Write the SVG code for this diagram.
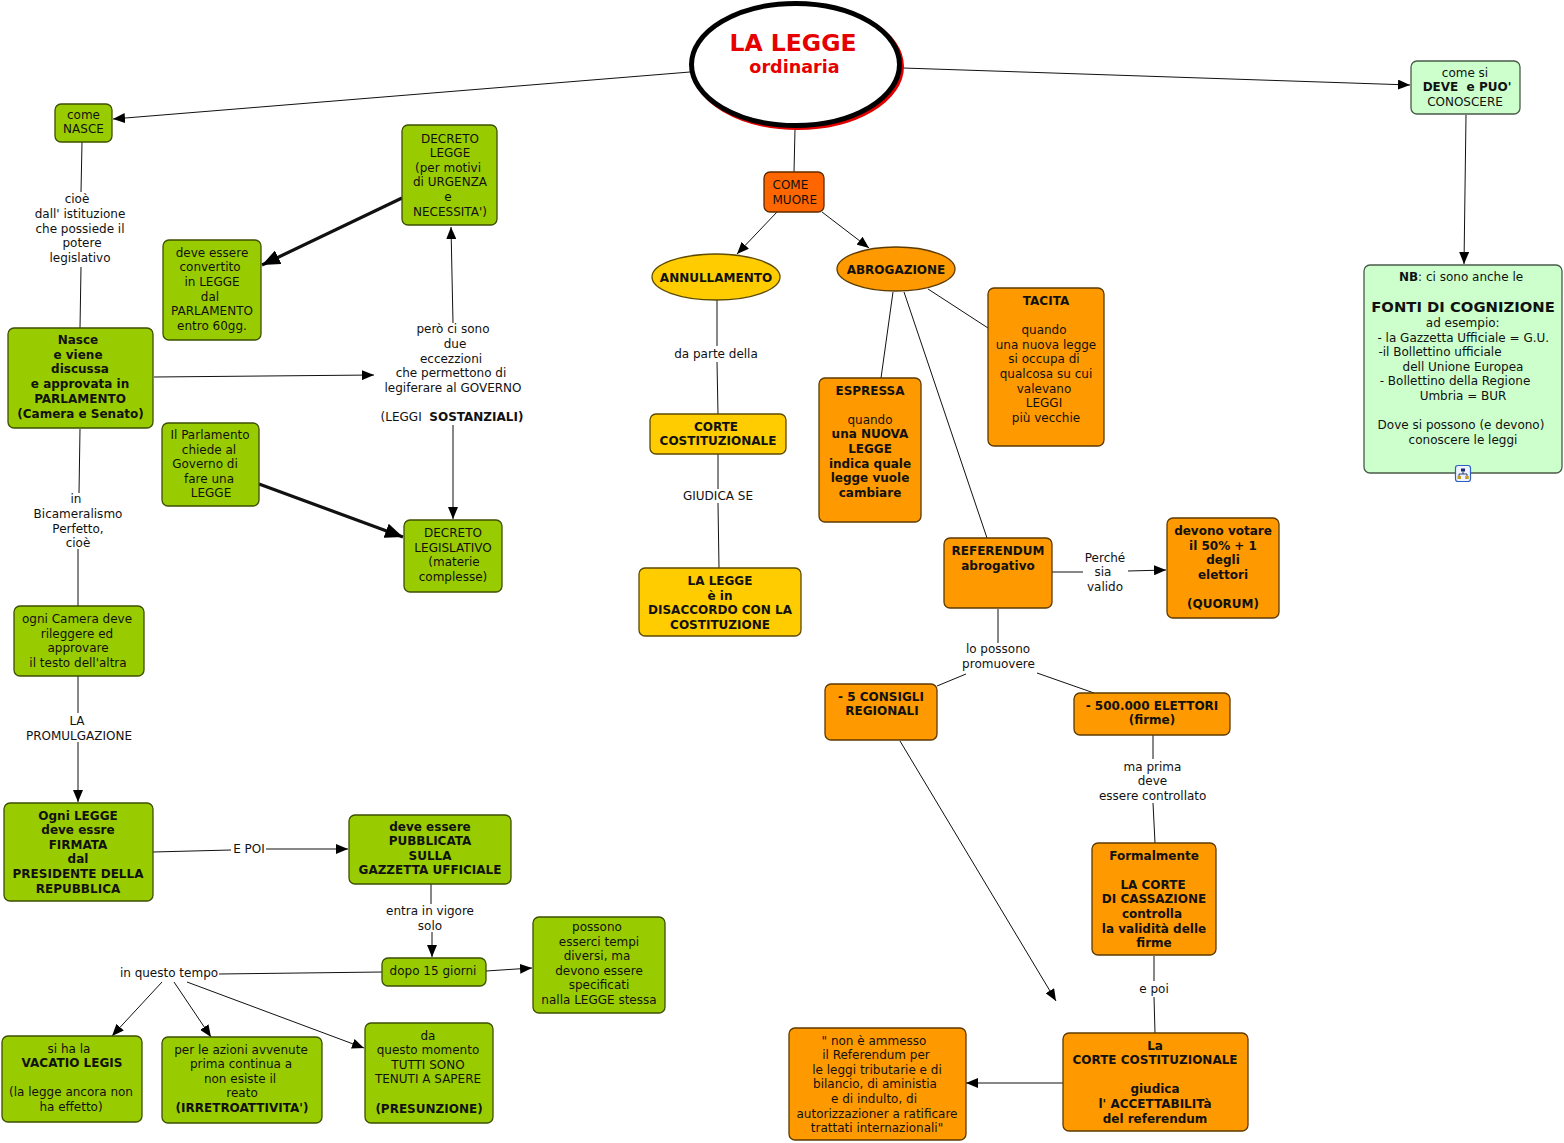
<svg xmlns="http://www.w3.org/2000/svg" width="1564" height="1143" viewBox="0 0 1564 1143">
<style>
.g{fill:#99cc00;stroke:#3d4f00;stroke-width:1.3}
.o{fill:#ff9900;stroke:#5c3a00;stroke-width:1.3}
.y{fill:#ffcc00;stroke:#5c4a00;stroke-width:1.3}
.r{fill:#ff6600;stroke:#5c2a00;stroke-width:1.3}
.lg{fill:#ccffcc;stroke:#4a5a4a;stroke-width:1.3}
text{font-family:"DejaVu Sans",Verdana,sans-serif;font-size:12px;fill:#111}
.m{text-anchor:middle}
.b{font-weight:bold}
#connectors line{stroke:#111;stroke-width:1;fill:none}
#connectors line.thick{stroke-width:3.2}
</style>
<defs>
<marker id="a" viewBox="0 0 12 10" refX="12" refY="5" markerWidth="12" markerHeight="10" markerUnits="userSpaceOnUse" orient="auto"><path d="M0,0 L12,5 L0,10 z" fill="#000"/></marker>
<marker id="A" viewBox="0 0 18 15" refX="18" refY="7.5" markerWidth="18" markerHeight="15" markerUnits="userSpaceOnUse" orient="auto"><path d="M0,0 L18,7.5 L0,15 z" fill="#000"/></marker>
</defs>
<rect width="1564" height="1143" fill="#fff"/>

<g id="connectors">
<line x1="690" y1="72" x2="113" y2="119" marker-end="url(#a)"/>
<line x1="903" y1="68" x2="1410" y2="85" marker-end="url(#a)"/>
<line x1="795" y1="129" x2="794" y2="172"/>
<line x1="777" y1="212" x2="737" y2="254" marker-end="url(#a)"/>
<line x1="822" y1="212" x2="869" y2="248" marker-end="url(#a)"/>
<line x1="717" y1="300" x2="717" y2="346"/>
<line x1="717" y1="362" x2="718" y2="414"/>
<line x1="718" y1="454" x2="718" y2="489"/>
<line x1="718" y1="503" x2="719" y2="568"/>
<line x1="893" y1="292" x2="881" y2="378"/>
<line x1="904" y1="292" x2="987" y2="538"/>
<line x1="928" y1="289" x2="988" y2="328"/>
<line x1="1052" y1="572" x2="1083" y2="572"/>
<line x1="1128" y1="571" x2="1166" y2="570" marker-end="url(#a)"/>
<line x1="998" y1="609" x2="998" y2="643"/>
<line x1="966" y1="674" x2="937" y2="686"/>
<line x1="1037" y1="673" x2="1094" y2="693"/>
<line x1="900" y1="741" x2="1056" y2="1001" marker-end="url(#a)"/>
<line x1="1153" y1="735" x2="1153" y2="759"/>
<line x1="1153" y1="803" x2="1155" y2="843"/>
<line x1="1154" y1="956" x2="1154" y2="981"/>
<line x1="1154" y1="997" x2="1155" y2="1033"/>
<line x1="1063" y1="1083" x2="966" y2="1083" marker-end="url(#a)"/>
<line x1="1466" y1="115" x2="1464" y2="264" marker-end="url(#a)"/>
<line x1="82" y1="142" x2="81" y2="192"/>
<line x1="81" y1="267" x2="80" y2="328"/>
<line x1="154" y1="377" x2="374" y2="375" marker-end="url(#a)"/>
<line x1="453" y1="323" x2="451" y2="227" marker-end="url(#a)"/>
<line x1="453" y1="425" x2="453" y2="519" marker-end="url(#a)"/>
<line class="thick" x1="402" y1="198" x2="262" y2="265" marker-end="url(#A)"/>
<line class="thick" x1="259" y1="484" x2="403" y2="537" marker-end="url(#A)"/>
<line x1="80" y1="429" x2="79" y2="493"/>
<line x1="78" y1="549" x2="78" y2="606"/>
<line x1="78" y1="676" x2="78" y2="713"/>
<line x1="78" y1="742" x2="78" y2="802" marker-end="url(#a)"/>
<line x1="153" y1="852" x2="231" y2="850"/>
<line x1="266" y1="849" x2="348" y2="849" marker-end="url(#a)"/>
<line x1="431" y1="884" x2="431" y2="904"/>
<line x1="432" y1="932" x2="432" y2="957" marker-end="url(#a)"/>
<line x1="486" y1="971" x2="532" y2="968" marker-end="url(#a)"/>
<line x1="219" y1="974" x2="382" y2="972"/>
<line x1="162" y1="982" x2="112" y2="1036" marker-end="url(#a)"/>
<line x1="174" y1="982" x2="211" y2="1037" marker-end="url(#a)"/>
<line x1="187" y1="982" x2="364" y2="1048" marker-end="url(#a)"/>
</g>

<g id="labels">
<text class="m"><tspan x="77" y="203.3">cioè</tspan><tspan x="80" y="217.9">dall' istituzione</tspan><tspan x="80" y="232.5">che possiede il</tspan><tspan x="82" y="247.1">potere</tspan><tspan x="80" y="261.7">legislativo</tspan></text>
<text class="m"><tspan x="453" y="333.3">però ci sono</tspan><tspan x="455" y="347.9">due</tspan><tspan x="451" y="362.5">eccezzioni</tspan><tspan x="451" y="377.1">che permettono di</tspan><tspan x="453" y="391.7">legiferare al GOVERNO</tspan></text>
<text class="m" x="452" y="421" xml:space="preserve">(LEGGI  <tspan class="b">SOSTANZIALI)</tspan></text>
<text class="m"><tspan x="76" y="503.3">in</tspan><tspan x="78" y="517.9">Bicameralismo</tspan><tspan x="78" y="532.5">Perfetto,</tspan><tspan x="78" y="547.1">cioè</tspan></text>
<text class="m"><tspan x="77" y="725">LA</tspan><tspan x="79" y="739.6">PROMULGAZIONE</tspan></text>
<text class="m" x="249" y="853.3">E POI</text>
<text class="m"><tspan x="430" y="915">entra in vigore</tspan><tspan x="430" y="929.6">solo</tspan></text>
<text class="m" x="169" y="976.5">in questo tempo</text>
<text class="m" x="716" y="358">da parte della</text>
<text class="m" x="718" y="499.5">GIUDICA SE</text>
<text class="m"><tspan x="1105" y="561.7">Perché</tspan><tspan x="1103" y="576.3">sia</tspan><tspan x="1105" y="590.9">valido</tspan></text>
<text class="m"><tspan x="998" y="653.3">lo possono</tspan><tspan x="998.5" y="667.9">promuovere</tspan></text>
<text class="m"><tspan x="1152.5" y="770.7">ma prima</tspan><tspan x="1152.5" y="785.3">deve</tspan><tspan x="1152.7" y="799.9">essere controllato</tspan></text>
<text class="m" x="1154" y="992.7">e poi</text>
</g>

<g id="main">
<ellipse cx="797.5" cy="66.5" rx="104" ry="61" fill="none" stroke="#e00000" stroke-width="5"/>
<ellipse cx="795.5" cy="64.5" rx="104" ry="61" fill="#fff" stroke="#000" stroke-width="5"/>
<text class="m b" x="793" y="51" style="font-size:23.5px;fill:#e60000">LA LEGGE</text>
<text class="m b" x="794.5" y="73.3" style="font-size:17.6px;fill:#e60000">ordinaria</text>
</g>

<g id="n-come-nasce"><rect class="g" x="55" y="104" width="57" height="38" rx="6"/>
<text class="m"><tspan x="83.5" y="118.5">come</tspan><tspan x="83.5" y="133">NASCE</tspan></text></g>

<g id="n-decreto-legge"><rect class="g" x="402" y="125" width="95" height="100" rx="6"/>
<text class="m"><tspan x="450" y="142.5">DECRETO</tspan><tspan x="450" dy="14.6">LEGGE</tspan><tspan x="448" dy="14.6">(per motivi</tspan><tspan x="450" dy="14.6">di URGENZA</tspan><tspan x="448" dy="14.6">e</tspan><tspan x="450" dy="14.6">NECESSITA')</tspan></text></g>

<g id="n-convertito"><rect class="g" x="163" y="240" width="98" height="100" rx="6"/>
<text class="m"><tspan x="212" y="256.7">deve essere</tspan><tspan x="210" dy="14.6">convertito</tspan><tspan x="212" dy="14.6">in LEGGE</tspan><tspan x="210" dy="14.6">dal</tspan><tspan x="212" dy="14.6">PARLAMENTO</tspan><tspan x="212" dy="14.6">entro 60gg.</tspan></text></g>

<g id="n-nasce"><rect class="g" x="8" y="328" width="145" height="100" rx="6"/>
<text class="m b"><tspan x="78" y="344">Nasce</tspan><tspan x="78" dy="14.7">e viene</tspan><tspan x="80" dy="14.7">discussa</tspan><tspan x="80" dy="14.7">e approvata in</tspan><tspan x="80" dy="14.7">PARLAMENTO</tspan><tspan x="80.5" dy="14.7">(Camera e Senato)</tspan></text></g>

<g id="n-parlamento"><rect class="g" x="162" y="423" width="97" height="83" rx="6"/>
<text class="m"><tspan x="210" y="439">Il Parlamento</tspan><tspan x="209" dy="14.6">chiede al</tspan><tspan x="205" dy="14.6">Governo di</tspan><tspan x="209" dy="14.6">fare una</tspan><tspan x="211" dy="14.6">LEGGE</tspan></text></g>

<g id="n-decreto-legislativo"><rect class="g" x="404" y="520" width="98" height="72" rx="6"/>
<text class="m"><tspan x="453" y="537">DECRETO</tspan><tspan x="453" dy="14.6">LEGISLATIVO</tspan><tspan x="454" dy="14.6">(materie</tspan><tspan x="453" dy="14.6">complesse)</tspan></text></g>

<g id="n-ogni-camera"><rect class="g" x="14" y="606" width="130" height="70" rx="6"/>
<text class="m"><tspan x="77" y="623">ogni Camera deve</tspan><tspan x="77" dy="14.6">rileggere ed</tspan><tspan x="78" dy="14.6">approvare</tspan><tspan x="78" dy="14.6">il testo dell'altra</tspan></text></g>

<g id="n-firmata"><rect class="g" x="4" y="803" width="149" height="98" rx="6"/>
<text class="m b"><tspan x="78" y="819.5">Ogni LEGGE</tspan><tspan x="78" dy="14.6">deve essre</tspan><tspan x="78" dy="14.6">FIRMATA</tspan><tspan x="78" dy="14.6">dal</tspan><tspan x="78" dy="14.6">PRESIDENTE DELLA</tspan><tspan x="78" dy="14.6">REPUBBLICA</tspan></text></g>

<g id="n-pubblicata"><rect class="g" x="349" y="815" width="162" height="69" rx="6"/>
<text class="m b"><tspan x="430" y="830.5">deve essere</tspan><tspan x="430" dy="14.6">PUBBLICATA</tspan><tspan x="430" dy="14.6">SULLA</tspan><tspan x="430" dy="14.6">GAZZETTA UFFICIALE</tspan></text></g>

<g id="n-dopo15"><rect class="g" x="382" y="958" width="104" height="28" rx="6"/>
<text class="m" x="433" y="975">dopo 15 giorni</text></g>

<g id="n-possono"><rect class="g" x="533" y="917" width="132" height="96" rx="6"/>
<text class="m"><tspan x="597" y="931">possono</tspan><tspan x="599" dy="14.6">esserci tempi</tspan><tspan x="597" dy="14.6">diversi, ma</tspan><tspan x="599" dy="14.6">devono essere</tspan><tspan x="599" dy="14.6">specificati</tspan><tspan x="599" dy="14.6">nalla LEGGE stessa</tspan></text></g>

<g id="n-vacatio"><rect class="g" x="2" y="1036" width="140" height="86" rx="6"/>
<text class="m"><tspan x="69" y="1052.5">si ha la</tspan><tspan x="72" dy="14.6" class="b">VACATIO LEGIS</tspan><tspan x="71" dy="29.2">(la legge ancora non</tspan><tspan x="71" dy="14.6">ha effetto)</tspan></text></g>

<g id="n-irretroattivita"><rect class="g" x="162" y="1037" width="160" height="86" rx="6"/>
<text class="m"><tspan x="241" y="1053.5">per le azioni avvenute</tspan><tspan x="241" dy="14.6">prima continua a</tspan><tspan x="240" dy="14.6">non esiste il</tspan><tspan x="242" dy="14.6">reato</tspan><tspan x="242" dy="14.6" class="b">(IRRETROATTIVITA')</tspan></text></g>

<g id="n-presunzione"><rect class="g" x="365" y="1023" width="128" height="100" rx="6"/>
<text class="m"><tspan x="428" y="1039.5">da</tspan><tspan x="428" dy="14.6">questo momento</tspan><tspan x="428" dy="14.6">TUTTI SONO</tspan><tspan x="428" dy="14.6">TENUTI A SAPERE</tspan><tspan x="429" dy="29.2" class="b">(PRESUNZIONE)</tspan></text></g>

<g id="n-come-muore"><rect class="r" x="764" y="172" width="60" height="40" rx="6"/>
<text><tspan x="772.5" y="189.3">COME</tspan><tspan x="772.5" y="204">MUORE</tspan></text></g>

<g id="n-annullamento"><ellipse class="y" cx="716" cy="277" rx="64" ry="23"/>
<text class="m b" x="716" y="281.5">ANNULLAMENTO</text></g>

<g id="n-abrogazione"><ellipse class="o" cx="896" cy="269" rx="59" ry="22"/>
<text class="m b" x="896" y="273.5">ABROGAZIONE</text></g>

<g id="n-tacita"><rect class="o" x="988" y="288" width="116" height="158" rx="6"/>
<text class="m"><tspan x="1046" y="305" class="b">TACITA</tspan><tspan x="1044" dy="29.2">quando</tspan><tspan x="1046" dy="14.6">una nuova legge</tspan><tspan x="1044" dy="14.6">si occupa di</tspan><tspan x="1046" dy="14.6">qualcosa su cui</tspan><tspan x="1044" dy="14.6">valevano</tspan><tspan x="1044" dy="14.6">LEGGI</tspan><tspan x="1046" dy="14.6">più vecchie</tspan></text></g>

<g id="n-espressa"><rect class="o" x="819" y="378" width="102" height="144" rx="6"/>
<text class="m"><tspan x="870" y="394.5" class="b">ESPRESSA</tspan><tspan x="870" dy="29.2">quando</tspan><tspan x="870" dy="14.6" class="b">una NUOVA</tspan><tspan x="870" dy="14.6" class="b">LEGGE</tspan><tspan x="870" dy="14.6" class="b">indica quale</tspan><tspan x="870" dy="14.6" class="b">legge vuole</tspan><tspan x="870" dy="14.6" class="b">cambiare</tspan></text></g>

<g id="n-corte-cost-1"><rect class="y" x="650" y="414" width="136" height="40" rx="6"/>
<text class="m b"><tspan x="716" y="430.5">CORTE</tspan><tspan x="718" dy="14.6">COSTITUZIONALE</tspan></text></g>

<g id="n-disaccordo"><rect class="y" x="639" y="568" width="162" height="68" rx="6"/>
<text class="m b"><tspan x="720" y="585">LA LEGGE</tspan><tspan x="720" dy="14.6">è in</tspan><tspan x="720" dy="14.6">DISACCORDO CON LA</tspan><tspan x="720" dy="14.6">COSTITUZIONE</tspan></text></g>

<g id="n-referendum"><rect class="o" x="944" y="538" width="108" height="70" rx="6"/>
<text class="m b"><tspan x="998" y="555">REFERENDUM</tspan><tspan x="998" dy="14.6">abrogativo</tspan></text></g>

<g id="n-quorum"><rect class="o" x="1167" y="518" width="112" height="100" rx="6"/>
<text class="m b"><tspan x="1223" y="535">devono votare</tspan><tspan x="1223" dy="14.6">il 50% + 1</tspan><tspan x="1223" dy="14.6">degli</tspan><tspan x="1223" dy="14.6">elettori</tspan><tspan x="1223" dy="29.2">(QUORUM)</tspan></text></g>

<g id="n-consigli"><rect class="o" x="825" y="684" width="112" height="56" rx="6"/>
<text class="m b"><tspan x="881" y="700.5">- 5 CONSIGLI</tspan><tspan x="882" dy="14.6">REGIONALI</tspan></text></g>

<g id="n-elettori"><rect class="o" x="1074" y="693" width="156" height="42" rx="6"/>
<text class="m b"><tspan x="1152" y="709.5">- 500.000 ELETTORI</tspan><tspan x="1152" dy="14.6">(firme)</tspan></text></g>

<g id="n-formalmente"><rect class="o" x="1092" y="843" width="124" height="112" rx="6"/>
<text class="m b"><tspan x="1154" y="859.5">Formalmente</tspan><tspan x="1153" dy="29.2">LA CORTE</tspan><tspan x="1154" dy="14.6">DI CASSAZIONE</tspan><tspan x="1152" dy="14.6">controlla</tspan><tspan x="1154" dy="14.6">la validità delle</tspan><tspan x="1154" dy="14.6">firme</tspan></text></g>

<g id="n-corte-cost-2"><rect class="o" x="1063" y="1033" width="185" height="98" rx="6"/>
<text class="m b"><tspan x="1155" y="1049.5">La</tspan><tspan x="1155" dy="14.6">CORTE COSTITUZIONALE</tspan><tspan x="1155" dy="29.2">giudica</tspan><tspan x="1155" dy="14.6">l' ACCETTABILITà</tspan><tspan x="1155" dy="14.6">del referendum</tspan></text></g>

<g id="n-non-ammesso"><rect class="o" x="789" y="1028" width="177" height="112" rx="6"/>
<text class="m"><tspan x="874" y="1044.5">" non è ammesso</tspan><tspan x="876" dy="14.6">il Referendum per</tspan><tspan x="877" dy="14.6">le leggi tributarie e di</tspan><tspan x="875" dy="14.6">bilancio, di aministia</tspan><tspan x="874" dy="14.6">e di indulto, di</tspan><tspan x="877" dy="14.6">autorizzazioner a ratificare</tspan><tspan x="877" dy="14.6">trattati internazionali"</tspan></text></g>

<g id="n-conoscere"><rect class="lg" x="1411" y="61" width="109" height="53" rx="6"/>
<text class="m"><tspan x="1465" y="76.7">come si</tspan><tspan x="1467" y="91.2" class="b" xml:space="preserve">DEVE  e PUO'</tspan><tspan x="1465" y="105.8">CONOSCERE</tspan></text></g>

<g id="n-fonti"><rect class="lg" x="1364" y="265" width="198" height="208" rx="6"/>
<text class="m" x="1461" y="280.7"><tspan class="b">NB</tspan>: ci sono anche le</text>
<text class="m b" x="1463" y="312.3" style="font-size:14.8px">FONTI DI COGNIZIONE</text>
<text class="m"><tspan x="1462.7" y="327.3">ad esempio:</tspan><tspan x="1463.3" y="341.8">- la Gazzetta Ufficiale = G.U.</tspan><tspan x="1440" y="356.3">-il Bollettino ufficiale</tspan><tspan x="1463" y="370.8">dell Unione Europea</tspan><tspan x="1455" y="385.3">- Bollettino della Regione</tspan><tspan x="1463" y="399.8">Umbria = BUR</tspan><tspan x="1461" y="429.2">Dove si possono (e devono)</tspan><tspan x="1463" y="443.7">conoscere le leggi</tspan></text>
<rect x="1455.5" y="465.5" width="15" height="16" rx="2.5" fill="#eef4ff" stroke="#2f5fc0" stroke-width="1.2"/>
<rect x="1461" y="468.5" width="4" height="3" fill="#1a2a6a"/>
<path d="M1463,471.5 V474 M1459,474 H1467 M1459,474 V476 M1467,474 V476" stroke="#1a2a6a" stroke-width="0.9" fill="none"/>
<rect x="1457.5" y="476" width="3.5" height="3" fill="#c89a20"/>
<rect x="1465.2" y="476" width="3.5" height="3" fill="#c89a20"/>
</g>
</svg>
